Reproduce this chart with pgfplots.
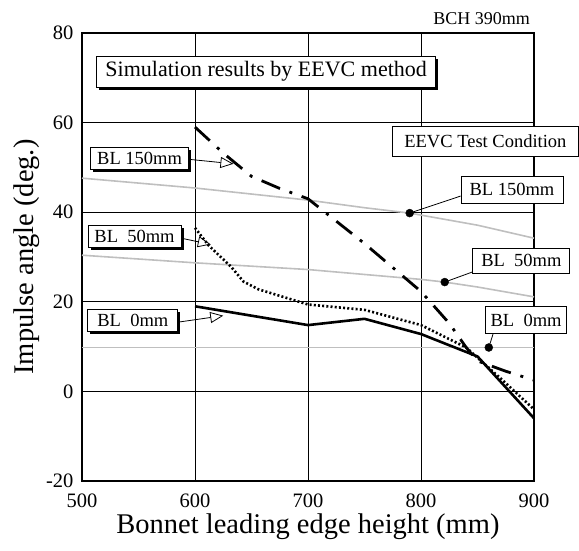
\documentclass[border=0pt]{standalone}
\usepackage{pgfplots}
\pgfplotsset{compat=1.18}
\usepackage{fontspec}
\setmainfont{Liberation Serif}
\usetikzlibrary{shadows,arrows.meta}

\begin{document}
\begin{tikzpicture}
\begin{axis}[
  scale only axis, width=452pt, height=448pt,
  xmin=500, xmax=900, ymin=-20, ymax=80,
  xtick={500,600,...,900}, ytick={-20,0,...,80},
  grid=major, major grid style={black, line width=0.6pt},
  axis line style={line width=1.2pt},
  tick style={draw=none},
  ticklabel style={font=\fontsize{20.5}{22}\selectfont},
  xticklabel style={yshift=-9pt},
  yticklabel style={xshift=-5pt},
  /pgf/number format/assume math mode=true,
  xlabel={Bonnet leading edge height (mm)},
  ylabel={Impulse angle (deg.)},
  label style={font=\fontsize{28.5}{30}\selectfont},
  xlabel style={at={(axis description cs:0.5,0)}, anchor=base, yshift=-53pt},
  ylabel style={at={(axis description cs:-0.1084,0.5)}, anchor=base, rotate=0},
  clip=false,
]
% EEVC test condition (gray)
\addplot[gray!50, line width=1.6pt] coordinates {(500,47.6)(600,45.4)(700,42.7)(750,41)(790,39.8)(850,37.1)(900,34.2)};
\addplot[gray!50, line width=1.6pt] coordinates {(500,30.4)(600,28.7)(700,27.2)(750,26.1)(800,25)(821,24.4)(850,23.3)(900,21.1)};
\addplot[gray!50, line width=1.6pt] coordinates {(500,9.8)(900,9.8)};
% simulation BL 150
\addplot[black, line width=2.8pt, dash pattern=on 20pt off 10pt on 3pt off 10pt] coordinates {(600,59)(625,53.2)(650,48)(675,45.3)(700,43)(750,33)(800,22.3)(825,15.2)(840,9.8)(850,6.8)(875,4.5)(900,2.5)};
% simulation BL 50
\addplot[black, line width=2.6pt, dash pattern=on 2pt off 2.2pt] coordinates {(600,36.5)(612,32.6)(632,27.8)(643,24.5)(656,22.8)(700,19.4)(750,18.2)(800,14.8)(840,9.8)(870,3)(900,-4)};
% simulation BL 0
\addplot[black, line width=2.6pt] coordinates {(600,19)(700,14.8)(750,16.2)(800,12.8)(850,7.8)(900,-6)};
% EEVC markers
\addplot[only marks, mark=*, mark size=4pt, black] coordinates {(790,39.8)(821,24.4)(860,9.8)};

\coordinate (cSim) at (axis cs:663,71.4);
\coordinate (cEEVC) at (axis cs:857,55.75);
\coordinate (cR150) at (axis cs:880.5,45);
\coordinate (cR50) at (axis cs:888.8,29.15);
\coordinate (cR0) at (axis cs:893,15.95);
\coordinate (cL150) at (axis cs:551,51.9);
\coordinate (cL50) at (axis cs:546.5,34.6);
\coordinate (cL0) at (axis cs:545,15.8);
\coordinate (a150) at (axis cs:634,50.8);
\coordinate (a50) at (axis cs:614,32.8);
\coordinate (a0) at (axis cs:625,16.9);
\coordinate (m150) at (axis cs:790,39.8);
\coordinate (m50) at (axis cs:821,24.4);
\coordinate (m0) at (axis cs:860,9.8);
\coordinate (r150) at (axis cs:835,43.6);
\coordinate (r50) at (axis cs:846,26.7);
\coordinate (r0) at (axis cs:864,13);
\coordinate (bch) at (axis cs:896.5,81.8);
\end{axis}

\tikzset{
  lbox/.style={draw=black, fill=white, line width=0.8pt,
    drop shadow={shadow xshift=2.5pt, shadow yshift=-2.5pt, fill=black, opacity=1},
    font=\fontsize{18.5}{20}\selectfont, inner sep=0pt, minimum height=22pt},
  rbox/.style={draw=black, fill=white, line width=0.8pt,
    font=\fontsize{18.5}{20}\selectfont, inner sep=0pt},
}
% connectors
\draw[line width=0.8pt] (m150) -- (r150);
\draw[line width=0.8pt] (m50) -- (r50);
\draw[line width=0.8pt] (m0) -- (r0);
\draw[line width=0.8pt, -{Triangle[open,length=13pt,width=11pt]}] (cL150) ++(45pt,0) -- (a150);
\draw[line width=0.8pt, -{Triangle[open,length=13pt,width=11pt]}] (cL50) ++(43pt,-1pt) -- (a50);
\draw[line width=0.8pt, -{Triangle[open,length=13pt,width=11pt]}] (cL0) ++(42pt,-2pt) -- (a0);

\node[lbox, minimum width=339pt, minimum height=31pt, font=\fontsize{22}{24}\selectfont] at (cSim) {Simulation results by EEVC method};
\node[lbox, minimum width=98pt] at (cL150) {BL 150mm};
\node[lbox, minimum width=93pt] at (cL50) {BL\ \ 50mm};
\node[lbox, minimum width=90pt] at (cL0) {BL\ \ 0mm};

\node[rbox, minimum width=186pt, minimum height=30pt] at (cEEVC) {EEVC Test Condition};
\node[rbox, minimum width=102pt, minimum height=27pt] at (cR150) {BL 150mm};
\node[rbox, minimum width=97pt, minimum height=25pt] at (cR50) {BL\ \ 50mm};
\node[rbox, minimum width=81pt, minimum height=27pt] at (cR0) {BL\ \ 0mm};

\node[anchor=base east, font=\fontsize{18}{20}\selectfont, inner sep=0pt] at (bch) {BCH 390mm};

\pgfresetboundingbox
\path[use as bounding box] (-82pt,-70pt) rectangle (497pt,481pt);
\end{tikzpicture}
\end{document}
